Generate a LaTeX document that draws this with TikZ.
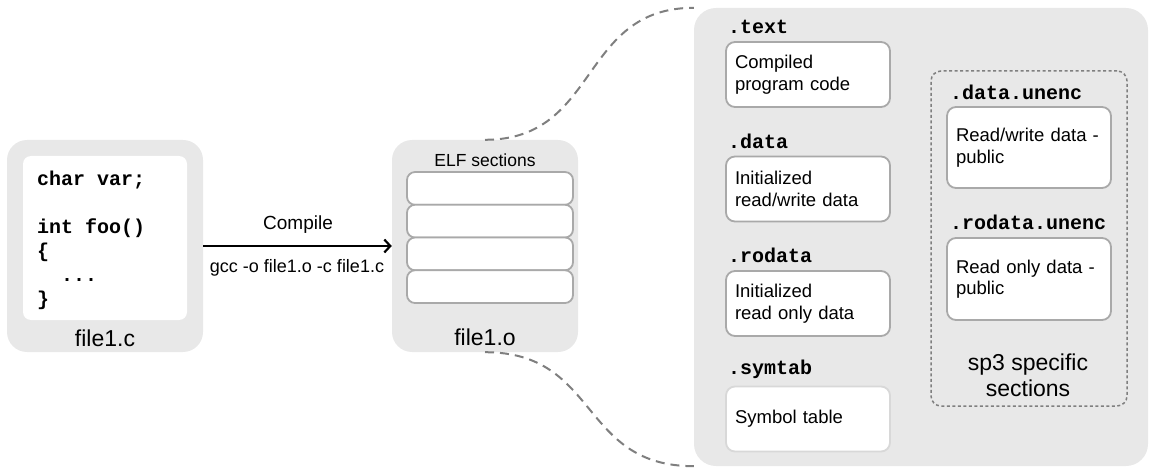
\documentclass[tikz,border=0pt]{standalone}
\usepackage{fontspec}
\setmainfont{Liberation Sans}
\newfontfamily\codefam{Liberation Mono}
\usetikzlibrary{arrows.meta}

\definecolor{boxgray}{HTML}{E8E8E8}
\definecolor{edgegray}{HTML}{A9A9A9}
\definecolor{dashgray}{HTML}{7F7F7F}

\tikzset{
  filebox/.style={fill=boxgray, rounded corners=20pt, inner sep=0pt},
  slotbox/.style={draw=edgegray, line width=1.8pt, fill=white, rounded corners=8pt, minimum width=166pt, minimum height=32.75pt, inner sep=0pt},
  secbox/.style={draw=edgegray, line width=1.8pt, fill=white, rounded corners=9pt, minimum width=164pt, inner xsep=9pt, text width=146pt, align=left, font=\fontsize{18.5}{21.5}\selectfont},
  seclabel/.style={anchor=west, inner sep=0pt, font=\codefam\bfseries\fontsize{20}{24}\selectfont},
  bigtext/.style={font=\fontsize{23}{26}\selectfont},
  zoomline/.style={draw=dashgray, line width=2pt, dash pattern=on 9pt off 6pt},
}

\begin{document}
\begin{tikzpicture}[x=1pt, y=-1pt]
\useasboundingbox (0,0) rectangle (1150,470);

% source file
\node[filebox, minimum width=196pt, minimum height=212pt] (cfile) at (105,246) {};
\node[fill=white, rounded corners=8pt, minimum width=164pt, minimum height=164pt] (code) at (105,238) {};
\node[anchor=north west, inner sep=0pt, align=left, font=\codefam\bfseries\fontsize{20}{24}\selectfont] (listing) at (37,171) {char var;\\[24pt]int foo()\\\{\\\ \ ...\\\}};
\node[bigtext] (cname) at (105,338) {file1.c};

% object file
\node[filebox, minimum width=186pt, minimum height=212pt] (ofile) at (485,246) {};
\node[font=\fontsize{17.5}{20}\selectfont] (elf) at (485,160) {ELF sections};
\foreach \i in {0,...,3}
  \node[slotbox] (slot\i) at (490,{188.4+32.75*\i}) {}; % one slot per section
\node[bigtext] (oname) at (485,337) {file1.o};

% compile step
\draw[line width=2.2pt, -{Straight Barb[length=6pt,width=13pt]}] (cfile.east) -- (ofile.west);
\node[font=\fontsize{19}{22}\selectfont] (step) at (298,225) {Compile};
\node[font=\fontsize{18}{21}\selectfont] (cmd) at (297,268) {gcc -o file1.o -c file1.c};

% sections in detail
\node[filebox, rounded corners=22pt, minimum width=454pt, minimum height=458pt] (secs) at (921,237) {};

\node[seclabel] (textlbl) at (728,27) {.text};
\node[secbox, minimum height=65pt] (textsec) at (808,74.5) {Compiled\\program code};
\node[seclabel] (datalbl) at (728,141) {.data};
\node[secbox, minimum height=65pt] (datasec) at (808,189) {Initialized\\read/write data};
\node[seclabel] (rodatalbl) at (728,255) {.rodata};
\node[secbox, minimum height=65pt] (rodatasec) at (808,303.5) {Initialized\\read only data};
\node[seclabel] (symtablbl) at (728,369) {.symtab};
\node[secbox, draw=edgegray!45, minimum height=65pt] (symtabsec) at (808,419) {Symbol table};

% sp3 group
\node[draw=dashgray, line width=1.5pt, dash pattern=on 3pt off 2.5pt, rounded corners=10pt, minimum width=196pt, minimum height=335pt] (sp3) at (1029,238.5) {};
\node[seclabel] (dataulbl) at (950,92) {.data.unenc};
\node[secbox, minimum height=81pt] (datausec) at (1029,147.5) {Read/write data -\\public};
\node[seclabel] (rodataulbl) at (950,222) {.rodata.unenc};
\node[secbox, minimum height=82pt] (rodatausec) at (1029,279) {Read only data -\\public};
\node[bigtext, align=center] (sp3name) at (1028,375) {sp3 specific\\sections};

% zoom lines
\draw[zoomline] (ofile.north) .. controls +(115,0) and +(-115,0) .. (secs.north west);
\draw[zoomline] (ofile.south) .. controls +(115,0) and +(-115,0) .. (secs.south west);
\end{tikzpicture}
\end{document}
